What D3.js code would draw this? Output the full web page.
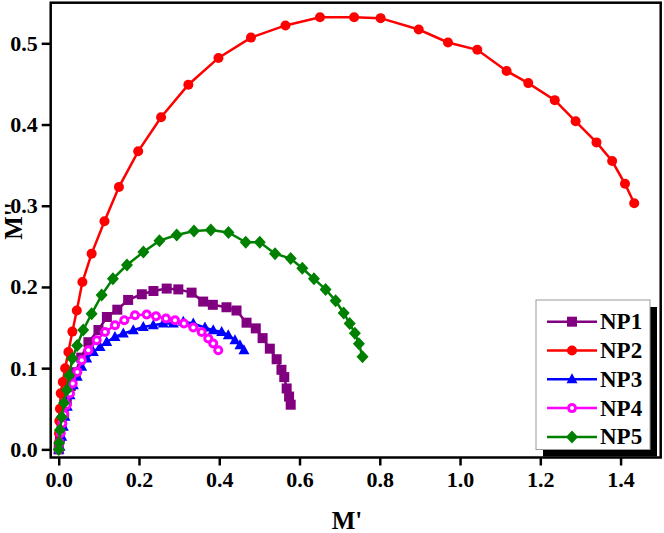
<!DOCTYPE html>
<html><head><meta charset="utf-8">
<script src="https://cdn.jsdelivr.net/npm/d3@7"></script>
<style>
html,body{margin:0;padding:0;background:#fff;}
svg{display:block;}
text{font-family:"Liberation Serif","Times New Roman",serif;font-weight:bold;fill:#000;}
</style></head><body>
<svg id="chart" width="664" height="533"></svg>
<script>
const seriesNames = ["NP1","NP2","NP3","NP4","NP5"];
const seriesColors = ["#800080","#ff0000","#0000ff","#ff00ff","#008000"];
const seriesMarkers = ["square","circle","triangle","ring","diamond"];
const xTicks = [0.0,0.2,0.4,0.6,0.8,1.0,1.2,1.4];
const yTicks = [0.0,0.1,0.2,0.3,0.4,0.5];

const np1 = [[0,0],[0.003,0.015],[0.007,0.03],[0.012,0.045],[0.02,0.06],[0.03,0.078],[0.042,0.095],[0.056,0.113],[0.074,0.132],[0.099,0.147],[0.12,0.163],[0.146,0.172],[0.173,0.184],[0.207,0.191],[0.236,0.195],[0.269,0.198],[0.298,0.197],[0.331,0.193],[0.36,0.182],[0.384,0.178],[0.418,0.175],[0.443,0.171],[0.468,0.156],[0.491,0.149],[0.508,0.137],[0.526,0.124],[0.543,0.111],[0.555,0.098],[0.562,0.089],[0.568,0.075],[0.574,0.065],[0.578,0.055]];
const np2 = [[0,0],[0.0003,0.008],[0.0008,0.02],[0.0015,0.035],[0.003,0.05],[0.005,0.069],[0.010,0.083],[0.016,0.100],[0.024,0.120],[0.034,0.145],[0.045,0.171],[0.059,0.206],[0.082,0.241],[0.114,0.281],[0.150,0.323],[0.198,0.367],[0.255,0.409],[0.323,0.449],[0.398,0.482],[0.479,0.507],[0.565,0.522],[0.651,0.532],[0.736,0.532],[0.802,0.531],[0.897,0.517],[0.970,0.501],[1.043,0.492],[1.116,0.466],[1.170,0.451],[1.236,0.430],[1.288,0.404],[1.340,0.378],[1.379,0.355],[1.411,0.327],[1.434,0.303]];
const np3 = [[0,0],[0.0032,0.0032],[0.0075,0.0155],[0.0115,0.0278],[0.0157,0.0401],[0.0214,0.0524],[0.0281,0.0668],[0.0364,0.0791],[0.0463,0.0893],[0.0573,0.1016],[0.0697,0.1119],[0.0862,0.12],[0.1029,0.1262],[0.1196,0.1323],[0.1402,0.1385],[0.1609,0.1426],[0.1858,0.1467],[0.2107,0.1508],[0.2356,0.1529],[0.2605,0.155],[0.2854,0.155],[0.3104,0.157],[0.3353,0.155],[0.3644,0.15],[0.385,0.1467],[0.406,0.1446],[0.4225,0.1406],[0.4391,0.1344],[0.4516,0.1283],[0.4615,0.1221]];
const np4 = [[0,0],[0.002,0.008],[0.005,0.02],[0.009,0.032],[0.014,0.043],[0.0199,0.0545],[0.0281,0.0689],[0.0349,0.0812],[0.0463,0.0954],[0.0573,0.1098],[0.0737,0.1221],[0.0946,0.1344],[0.1153,0.1446],[0.1402,0.1529],[0.1634,0.159],[0.19,0.1651],[0.2192,0.166],[0.2423,0.1639],[0.2672,0.1611],[0.2897,0.159],[0.312,0.155],[0.3353,0.15],[0.3562,0.1446],[0.3726,0.1365],[0.385,0.1303],[0.3975,0.1221]];
const np5 = [[0,0],[0.001,0.008],[0.003,0.024],[0.0075,0.040],[0.013,0.057],[0.020,0.073],[0.026,0.091],[0.034,0.112],[0.046,0.128],[0.061,0.147],[0.082,0.167],[0.107,0.19],[0.135,0.21],[0.17,0.227],[0.211,0.243],[0.251,0.257],[0.294,0.264],[0.337,0.269],[0.379,0.270],[0.423,0.267],[0.466,0.255],[0.501,0.255],[0.539,0.241],[0.578,0.235],[0.607,0.223],[0.636,0.210],[0.665,0.197],[0.69,0.183],[0.71,0.168],[0.725,0.155],[0.738,0.143],[0.748,0.13],[0.757,0.114]];
const seriesData = [np1,np2,np3,np4,np5];

const svg = d3.select("#chart");
const L = 50.7, R = 660.7, T = 2.7, B = 457.5;
const x = d3.scaleLinear().domain([-0.02,1.5]).range([L,R]);
const y = d3.scaleLinear().domain([-0.01,0.55]).range([B,T]);

function marker(sel, type, color){
  if(type==="square"){
    sel.append("rect").attr("x",-5).attr("y",-5).attr("width",10).attr("height",10).attr("fill",color);
  } else if(type==="circle"){
    sel.append("circle").attr("r",5).attr("fill",color);
  } else if(type==="triangle"){
    sel.append("path").attr("d","M0,-6L5.5,4L-5.5,4Z").attr("fill",color);
  } else if(type==="ring"){
    sel.append("circle").attr("r",5).attr("fill",color);
    sel.append("circle").attr("r",2).attr("fill","#fff");
  } else if(type==="diamond"){
    sel.append("path").attr("d","M0,-6.5L6,0L0,6.5L-6,0Z").attr("fill",color);
  }
}

// axes
const xAxis = d3.axisBottom(x).tickValues(xTicks).tickFormat(d3.format(".1f")).tickSize(8).tickPadding(6);
const yAxis = d3.axisLeft(y).tickValues(yTicks).tickFormat(d3.format(".1f")).tickSize(9).tickPadding(4);
const gx = svg.append("g").attr("transform",`translate(0,${B})`).call(xAxis);
const gy = svg.append("g").attr("transform",`translate(${L},0)`).call(yAxis);
[gx,gy].forEach(g=>{
  g.select(".domain").remove();
  g.selectAll(".tick line").attr("stroke","#000").attr("stroke-width",2.5);
  g.selectAll(".tick text").style("font-family",'"Liberation Serif","Times New Roman",serif').style("font-weight","bold").style("font-size","22px").attr("fill","#000");
});

// series
const plot = svg.append("g");
const line = d3.line().x(d=>x(d[0])).y(d=>y(d[1]));
seriesData.forEach((data,i)=>{
  const g = plot.append("g");
  g.append("path").datum(data).attr("d",line).attr("fill","none").attr("stroke",seriesColors[i]).attr("stroke-width",2.5);
  g.selectAll("g.m").data(data).join("g").attr("class","m")
    .attr("transform",d=>`translate(${x(d[0])},${y(d[1])})`)
    .each(function(){ marker(d3.select(this), seriesMarkers[i], seriesColors[i]); });
});

// legend
const lg = svg.append("g");
const lx = 536, ly = 300, lw = 114, lh = 149.5;
lg.append("rect").attr("x",lx+7).attr("y",ly+7).attr("width",lw).attr("height",lh).attr("fill","#000");
lg.append("rect").attr("x",lx).attr("y",ly).attr("width",lw).attr("height",lh).attr("fill","#fff").attr("stroke","#999").attr("stroke-width",1);
seriesNames.forEach((n,i)=>{
  const ry = 321.7 + i*28.8;
  const row = lg.append("g");
  row.append("line").attr("x1",547).attr("x2",597).attr("y1",ry).attr("y2",ry).attr("stroke",seriesColors[i]).attr("stroke-width",2.5);
  marker(row.append("g").attr("transform",`translate(572,${ry})`), seriesMarkers[i], seriesColors[i]);
  row.append("text").attr("x",600).attr("y",ry+7.5).style("font-size","23px").text(n);
});

// frame
svg.append("rect").attr("x",L).attr("y",T).attr("width",R-L).attr("height",B-T).attr("fill","none").attr("stroke","#000").attr("stroke-width",2.5);

// titles
svg.append("text").attr("x",347).attr("y",529).attr("text-anchor","middle").style("font-size","25px").text("M'");
svg.append("text").attr("transform","translate(22,221) rotate(-90)").attr("text-anchor","middle").style("font-size","25px").text("M''");
</script></body></html>
